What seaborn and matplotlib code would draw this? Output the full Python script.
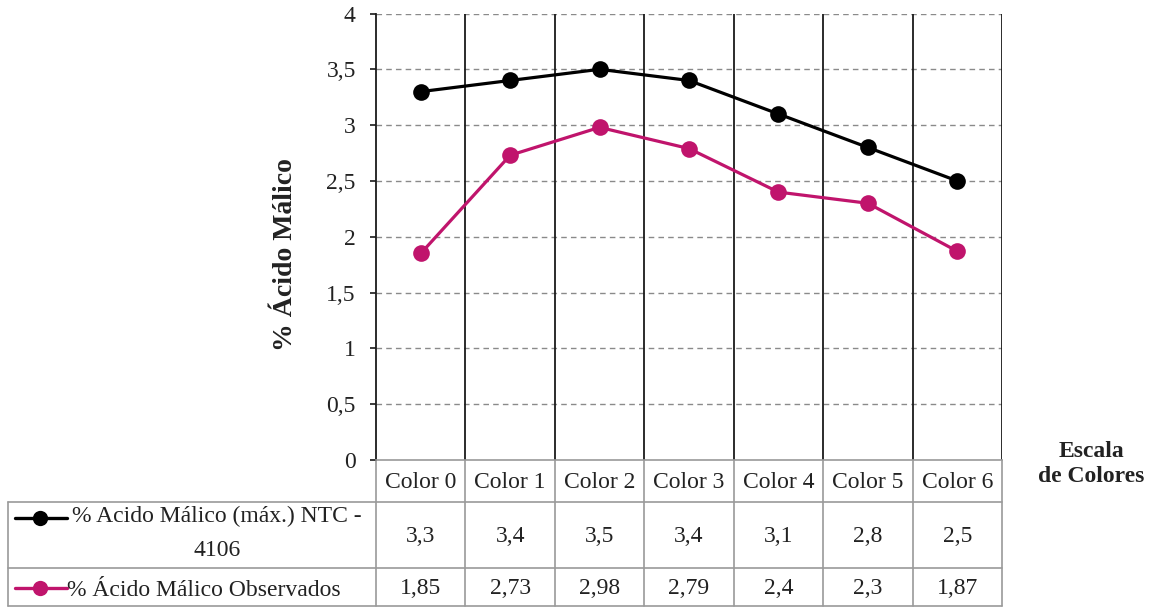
import matplotlib
matplotlib.use("Agg")
import matplotlib.pyplot as plt
import matplotlib.transforms as mtransforms
from matplotlib.ticker import FuncFormatter, MultipleLocator
import pandas as pd
import seaborn as sns

# ---- data -------------------------------------------------------------
categories = ["Color 0", "Color 1", "Color 2", "Color 3", "Color 4", "Color 5", "Color 6"]
max_ntc = [3.3, 3.4, 3.5, 3.4, 3.1, 2.8, 2.5]
observed = [1.85, 2.73, 2.98, 2.79, 2.4, 2.3, 1.87]
max_ntc_labels = ["3,3", "3,4", "3,5", "3,4", "3,1", "2,8", "2,5"]
observed_labels = ["1,85", "2,73", "2,98", "2,79", "2,4", "2,3", "1,87"]
series_names = ["% Acido Málico (máx.) NTC - 4106", "% Ácido Málico Observados"]
series_colors = ["#000000", "#C0146C"]
y_label = "% Ácido Málico"
x_title = "Escala\nde Colores"

sns.set_theme(style="white")
plt.rcParams["font.family"] = ["Liberation Serif", "DejaVu Serif"]

W, H = 1149, 607
fig = plt.figure(figsize=(W / 100, H / 100), dpi=100)
fig.patch.set_facecolor("white")

# main plotting area (pixel layout)
x0, x1, ytop, ybot = 376, 1002, 13.5, 460
ax = fig.add_axes([x0 / W, 1 - ybot / H, (x1 - x0) / W, (ybot - ytop) / H])

df = pd.DataFrame({
    "pos": list(range(len(categories))) * 2,
    "valor": max_ntc + observed,
    "serie": [series_names[0]] * len(categories) + [series_names[1]] * len(categories),
})

sns.lineplot(data=df, x="pos", y="valor", hue="serie", palette=series_colors,
             hue_order=series_names, marker="o", markersize=12, linewidth=2.3,
             markeredgewidth=0, legend=False, ax=ax, zorder=5)

ax.set_xlim(-0.5, len(categories) - 0.5)
ax.set_ylim(0, 4)
ax.yaxis.set_major_locator(MultipleLocator(0.5))
ax.yaxis.set_major_formatter(FuncFormatter(lambda v, p: f"{v:g}".replace(".", ",")))
ax.set_xticks([])
ax.set_xlabel("")

# dashed horizontal grid
for yv in [0.5, 1.0, 1.5, 2.0, 2.5, 3.0, 3.5, 4.0]:
    ax.axhline(yv, color="#8a8a8a", lw=1.0, ls=(0, (4, 3)), zorder=1)
# solid category separators
for i in range(1, len(categories) + 1):
    ax.axvline(i - 0.5, color="#1a1a1a", lw=1.3, zorder=2)

for side in ["top", "right"]:
    ax.spines[side].set_visible(False)
ax.spines["left"].set_color("#1a1a1a")
ax.spines["left"].set_linewidth(1.3)
ax.spines["bottom"].set_color("#9a9a9a")
ax.spines["bottom"].set_linewidth(1.2)

ax.tick_params(axis="y", which="major", left=True, direction="out", length=4.5,
               width=1.2, color="#1a1a1a", pad=10, labelsize=17, labelcolor="#222222")

ax.set_ylabel(y_label, fontsize=20, fontweight="bold", color="#222222")
ax.yaxis.set_label_coords((286 - x0) / (x1 - x0), (ybot - 255) / (ybot - ytop))
ax.yaxis.label.set_verticalalignment("center")

# ---- data table under the chart -------------------------------------
tab = fig.add_axes([0, 0, 1, 1], zorder=-1)
tab.set_xlim(0, W)
tab.set_ylim(H, 0)
tab.axis("off")

grid_c = "#9a9a9a"
row_top, hdr_bot, r1_bot, r2_bot, tbl_left = 460, 502, 568, 606, 8
for yy in [hdr_bot, r1_bot, r2_bot]:
    tab.plot([tbl_left, x1], [yy, yy], color=grid_c, lw=1.2)
tab.plot([tbl_left, tbl_left], [hdr_bot, r2_bot], color=grid_c, lw=1.2)

# column boundaries and cell texts placed on the category scale
blend = mtransforms.blended_transform_factory(ax.transData, tab.transData)
for i in range(len(categories) + 1):
    tab.plot([i - 0.5, i - 0.5], [row_top, r2_bot], color=grid_c, lw=1.2,
             transform=blend)

txt_kw = dict(fontsize=17, color="#222222", ha="center", va="center")
for i, cat in enumerate(categories):
    tab.text(i, 482, cat, transform=blend, **txt_kw)
    tab.text(i, 536, max_ntc_labels[i], transform=blend, **txt_kw)
    tab.text(i, 589, observed_labels[i], transform=blend, **txt_kw)

# legend keys inside the table
for yy, col in [(518, series_colors[0]), (588, series_colors[1])]:
    tab.plot([15, 67], [yy, yy], color=col, lw=2.4)
    tab.plot([40], [yy], marker="o", markersize=11, color=col, markeredgewidth=0)

name0_a, name0_b = series_names[0].rsplit(" ", 1)
tab.text(217, 516, name0_a, **txt_kw)
tab.text(217, 550, name0_b, **txt_kw)
tab.text(67, 590, series_names[1], fontsize=17, color="#222222",
         ha="left", va="center")

# category axis title
tab.text(1091, 464, x_title, fontsize=17, fontweight="bold", color="#222222",
         ha="center", va="center", linespacing=1.25)

fig.savefig("out.png", dpi=100, facecolor="white")
